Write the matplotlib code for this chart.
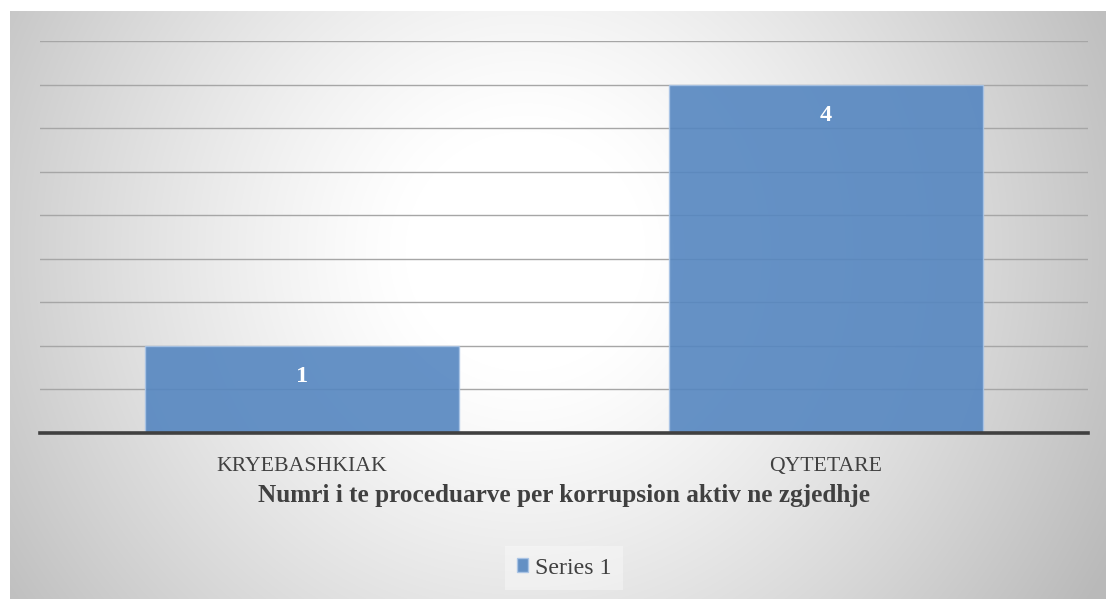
import numpy as np
import matplotlib
matplotlib.use("Agg")
import matplotlib.pyplot as plt

categories = ["KRYEBASHKIAK", "QYTETARE"]
values = [1, 4]
series_name = "Series 1"
title = "Numri i te proceduarve per korrupsion aktiv ne zgjedhje"

W, H = 1106, 599
fig = plt.figure(figsize=(W / 100, H / 100), dpi=100)
fig.patch.set_facecolor("white")

# background radial gradient (chart area)
bg = fig.add_axes([10 / W, 0, 1 - 10 / W, (H - 11) / H], zorder=0)
bw, bh = W - 10, H - 11
yy, xx = np.mgrid[0:bh, 0:bw]
cx, cy = 515, 240
d = np.sqrt((xx - cx) ** 2 + (yy - cy) ** 2)
t = np.clip((d - 120) / 480, 0, 1.25)
val = 255 - 60 * t ** 1.2
val = np.clip(val, 185, 255) / 255.0
img = np.dstack([val, val, val])
bg.imshow(img, aspect="auto", interpolation="bilinear")
bg.set_axis_off()

fs = "Liberation Serif"
ax = fig.add_axes([40 / W, (H - 433) / H, (1088 - 40) / W, (433 - 41) / H], zorder=1)
ax.set_facecolor("none")
x = np.arange(len(categories))
bars = ax.bar(x, values, width=0.6, color="#5586c0", alpha=0.9,
              edgecolor="#a9c4e6", linewidth=1.0, zorder=2, label=series_name)
ax.set_xlim(-0.5, 1.5)
ax.set_ylim(0, 4.5)
ax.set_yticks(np.arange(0.5, 4.51, 0.5))
ax.yaxis.grid(True, color="#a6a6a6", linewidth=1.0, zorder=1)
ax.set_axisbelow(True)
ax.tick_params(axis="y", left=False, labelleft=False)
for s in ["left", "right", "top"]:
    ax.spines[s].set_visible(False)
ax.spines["bottom"].set_color("#404040")
ax.spines["bottom"].set_linewidth(2.6)
ax.spines["bottom"].set_zorder(3)
ax.set_xticks(x)
ax.set_xticklabels(categories, fontfamily=fs, fontsize=15.7, color="#404040")
ax.tick_params(axis="x", length=0, pad=17)

for b, v in zip(bars, values):
    ax.annotate(str(v), (b.get_x() + b.get_width() / 2, v), xytext=(0, -31),
                textcoords="offset pixels", ha="center", va="center",
                fontfamily=fs, fontweight="bold", fontsize=17.5, color="white", zorder=4)

fig.text(564 / W, 1 - 502 / H, title, ha="center", va="baseline",
         fontfamily=fs, fontweight="bold", fontsize=18.2, color="#404040", zorder=5)

leg = fig.legend(handles=[bars], labels=[series_name], loc="center",
                 bbox_to_anchor=(564 / W, 1 - 568 / H), frameon=True,
                 prop={"family": fs, "size": 17.2}, handlelength=0.47,
                 handleheight=0.47, handletextpad=0.3, borderpad=0.5,
                 borderaxespad=0, fancybox=False)
leg.get_frame().set_facecolor("white")
leg.get_frame().set_alpha(0.35)
leg.get_frame().set_edgecolor("none")
for t_ in leg.get_texts():
    t_.set_color("#404040")

fig.savefig("out.png", dpi=100)
